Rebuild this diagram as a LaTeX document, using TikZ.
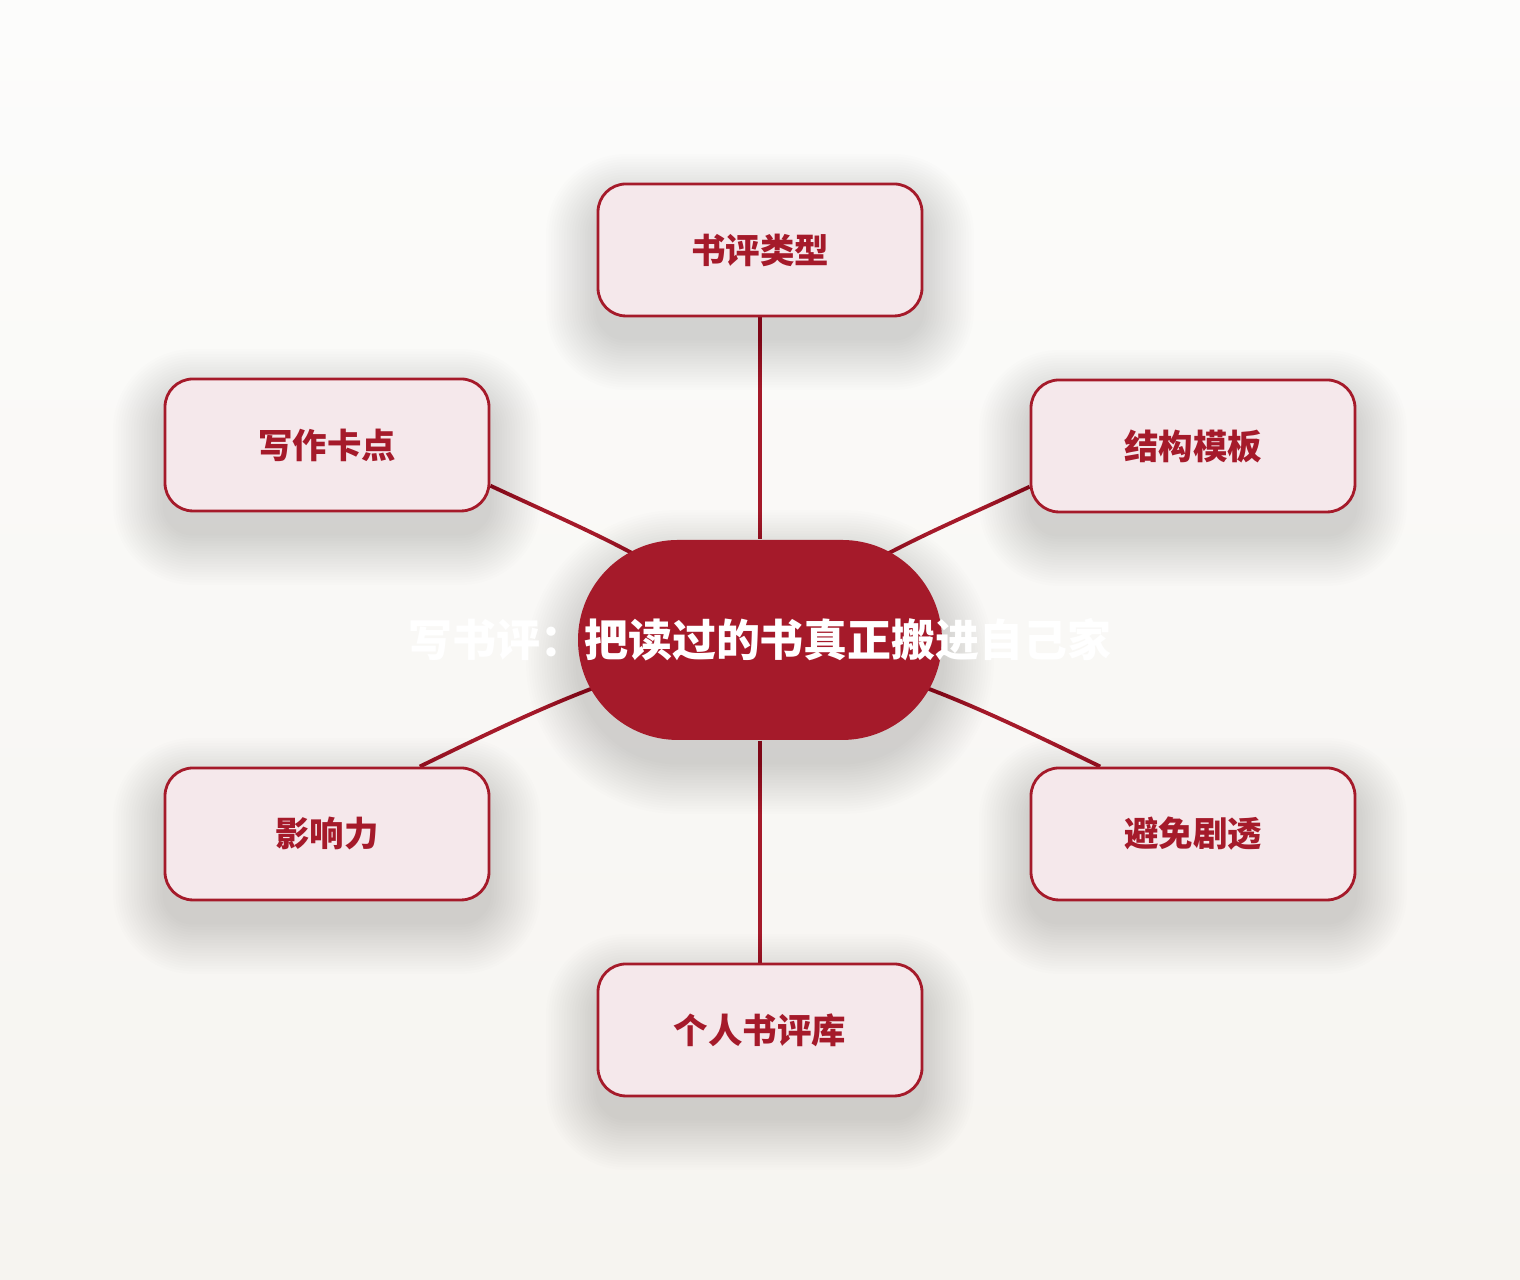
\documentclass[tikz,border=0pt]{standalone}
\usepackage{fontspec}
\newfontfamily\cjk{Noto Sans CJK SC}

\definecolor{bookred}{HTML}{A51A2A}
\definecolor{bookpink}{HTML}{F5E8EB}
\definecolor{papertop}{HTML}{FCFCFB}
\definecolor{paperbottom}{HTML}{F6F4F0}

\pgfdeclarelayer{paper}
\pgfdeclarelayer{links}
\pgfsetlayers{paper,links,main}

\tikzset{
  topic/.style={draw=bookred, line width=0.8pt, fill=bookpink,
    rounded corners=0.28cm, minimum width=3.24cm, minimum height=1.32cm,
    text=bookred, font=\cjk\bfseries\fontsize{9.8pt}{12pt}\selectfont},
  hub/.style={fill=bookred, rounded corners=1cm, minimum width=3.64cm,
    minimum height=2cm, inner sep=0pt},
  shadowstep/.style={fill=black, opacity=0.008},
  hubtitle/.style={text=white, font=\cjk\bfseries\fontsize{12.5pt}{15pt}\selectfont},
  link/.style={draw=bookred, line width=1.1pt}
}

% soft shadow: centre x, centre y, half width, half height, corner radius
\newcommand{\softshadow}[5]{
  \foreach \g [evaluate=\g as \r using 0.026*\g] in {1,...,20}
    \fill [shadowstep, rounded corners={(#5+\r)*1cm}]
      ({#1-#3-\r},{#2-#4-\r-0.22}) rectangle ({#1+#3+\r},{#2+#4+\r-0.22});
}

\begin{document}
\begin{tikzpicture}

\useasboundingbox (0,0) rectangle (15.2,12.8);
\begin{pgfonlayer}{paper}
\shade [top color=papertop, bottom color=paperbottom] (0,0) rectangle (15.2,12.8);
\end{pgfonlayer}

% shadows
\softshadow{7.6}{6.4}{1.82}{1}{1}
\softshadow{7.6}{10.30}{1.62}{0.66}{0.28}
\softshadow{3.27}{8.35}{1.62}{0.66}{0.28}
\softshadow{11.93}{8.34}{1.62}{0.66}{0.28}
\softshadow{3.27}{4.46}{1.62}{0.66}{0.28}
\softshadow{11.93}{4.46}{1.62}{0.66}{0.28}
\softshadow{7.6}{2.50}{1.62}{0.66}{0.28}

% centre
\node [hub] (hub) at (7.6,6.4) {};
\node [hubtitle] (hubtext) at (7.6,6.4) {写书评：把读过的书真正搬进自己家};

% branches
\node [topic] (types)   at (7.6,10.30)  {书评类型};
\node [topic] (snags)   at (3.27,8.35)  {写作卡点};
\node [topic] (frame)   at (11.93,8.34) {结构模板};
\node [topic] (impact)  at (3.27,4.46)  {影响力};
\node [topic] (spoiler) at (11.93,4.46) {避免剧透};
\node [topic] (library) at (7.6,2.50)   {个人书评库};

\begin{pgfonlayer}{links}
\draw [link] (types) -- (hub);
\draw [link] (hub) -- (library);
\draw [link] (hub.center) to[out=140, in=-25] (snags.-14);
\draw [link] (hub.center) to[out=40, in=205] (frame.194);
\draw [link] (hub.center) to[out=192, in=26] (impact.36);
\draw [link] (hub.center) to[out=-12, in=154] (spoiler.144);
\end{pgfonlayer}

\end{tikzpicture}
\end{document}
